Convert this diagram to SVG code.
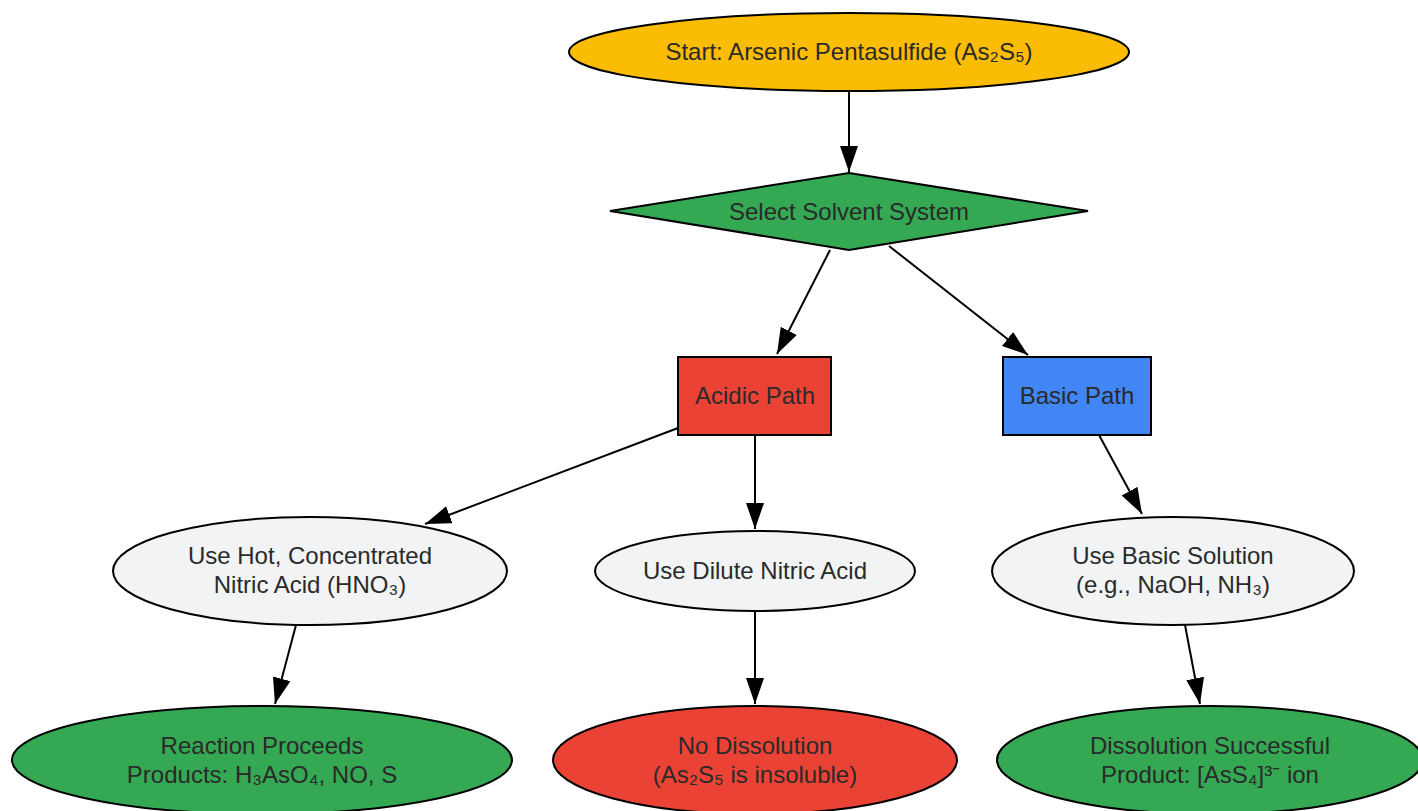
<svg xmlns="http://www.w3.org/2000/svg" width="1418" height="811" viewBox="0 0 1418 811">
<style>
.n{stroke:#000;stroke-width:2}
.t{font-family:"Liberation Sans",Arial,sans-serif;font-size:24px;fill:#2a2a2a;text-anchor:middle}
.e{stroke:#000;stroke-width:2;fill:none}
</style>
<defs>
<marker id="ah" markerUnits="userSpaceOnUse" markerWidth="28" markerHeight="22" refX="26" refY="9" orient="auto">
<path d="M0,0 L26,9 L0,18 z" fill="#000"/>
</marker>
</defs>
<rect width="1418" height="811" fill="#fff"/>
<g id="connectors">
<line class="e" x1="849" y1="91" x2="849" y2="172" marker-end="url(#ah)"/>
<line class="e" x1="830" y1="250" x2="777" y2="354" marker-end="url(#ah)"/>
<line class="e" x1="889" y1="246" x2="1028" y2="355" marker-end="url(#ah)"/>
<line class="e" x1="678" y1="428" x2="425" y2="524" marker-end="url(#ah)"/>
<line class="e" x1="755" y1="435" x2="755" y2="529" marker-end="url(#ah)"/>
<line class="e" x1="1099" y1="435" x2="1142" y2="514" marker-end="url(#ah)"/>
<line class="e" x1="296" y1="625" x2="275" y2="704" marker-end="url(#ah)"/>
<line class="e" x1="755" y1="610" x2="755" y2="704" marker-end="url(#ah)"/>
<line class="e" x1="1185" y1="625" x2="1200" y2="704" marker-end="url(#ah)"/>
</g>
<g id="start">
<ellipse class="n" cx="849" cy="52" rx="280" ry="39" fill="#FBBC04"/>
<text class="t" x="849" y="60">Start: Arsenic Pentasulfide (As₂S₅)</text>
</g>
<g id="select">
<polygon class="n" points="849,173 1088,211 849,250 610,211" fill="#34A853"/>
<text class="t" x="849" y="220">Select Solvent System</text>
</g>
<g id="acidic">
<rect class="n" x="678" y="357" width="153" height="78" fill="#EA4335"/>
<text class="t" x="755" y="404">Acidic Path</text>
</g>
<g id="basic">
<rect class="n" x="1003" y="357" width="148" height="78" fill="#4285F4"/>
<text class="t" x="1077" y="404">Basic Path</text>
</g>
<g id="hot">
<ellipse class="n" cx="310" cy="571" rx="197" ry="54" fill="#F1F3F4"/>
<text class="t" x="310" y="564">Use Hot, Concentrated</text>
<text class="t" x="310" y="593">Nitric Acid (HNO₃)</text>
</g>
<g id="dilute">
<ellipse class="n" cx="755" cy="571" rx="160" ry="40" fill="#F1F3F4"/>
<text class="t" x="755" y="579">Use Dilute Nitric Acid</text>
</g>
<g id="basicsol">
<ellipse class="n" cx="1173" cy="571" rx="181" ry="54" fill="#F1F3F4"/>
<text class="t" x="1173" y="564">Use Basic Solution</text>
<text class="t" x="1173" y="593">(e.g., NaOH, NH₃)</text>
</g>
<g id="reaction">
<ellipse class="n" cx="262" cy="760" rx="250" ry="54" fill="#34A853"/>
<text class="t" x="262" y="754">Reaction Proceeds</text>
<text class="t" x="262" y="783">Products: H₃AsO₄, NO, S</text>
</g>
<g id="nodiss">
<ellipse class="n" cx="755" cy="760" rx="202" ry="54" fill="#EA4335"/>
<text class="t" x="755" y="754">No Dissolution</text>
<text class="t" x="755" y="783">(As₂S₅ is insoluble)</text>
</g>
<g id="success">
<ellipse class="n" cx="1210" cy="760" rx="213" ry="54" fill="#34A853"/>
<text class="t" x="1210" y="754">Dissolution Successful</text>
<text class="t" x="1210" y="783">Product: [AsS₄]³⁻ ion</text>
</g>
</svg>
